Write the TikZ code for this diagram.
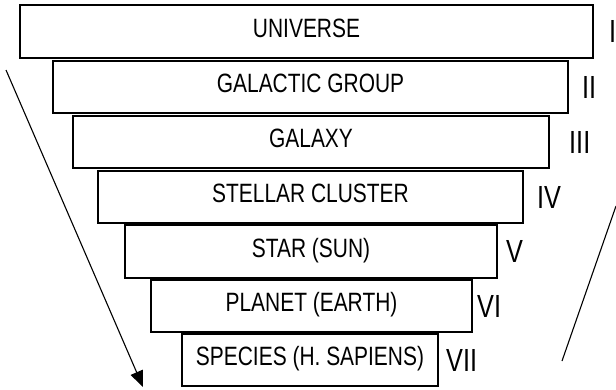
\documentclass[tikz,border=0pt]{standalone}
\usepackage{fontspec}
\setmainfont{Liberation Sans}[FakeStretch=0.79]
\usetikzlibrary{arrows.meta}

\begin{document}
\begin{tikzpicture}[x=1pt,y=-1pt,
    levelbox/.style={draw,line width=1.3pt,inner sep=0pt,text height=19pt,text depth=8pt,font=\fontsize{26.5}{31}\selectfont},
    levelnum/.style={anchor=west,inner sep=0pt,font=\fontsize{32}{38}\selectfont}]
  \useasboundingbox (0,0) rectangle (616,389);
  % 各层方框
  \foreach \i/\txt/\cx/\cy/\w/\h in {1/UNIVERSE/306.5/31.5/573/53,
      2/GALACTIC GROUP/310.5/87/515/52,
      3/GALAXY/311/142/476/52,
      4/STELLAR CLUSTER/310.5/197/425/52,
      5/STAR (SUN)/311/251.5/372/53,
      6/PLANET (EARTH)/311.5/306/321/52,
      7/SPECIES (H. SAPIENS)/310/360/256/52} {
      \node[levelbox,minimum width=\w pt,minimum height=\h pt] (box\i) at (\cx,\cy) {\txt};
  }
  % 罗马数字
  \foreach \i/\num/\nx in {1/I/609,2/II/582,3/III/569,4/IV/537,5/V/506,6/VI/477,7/VII/446} {
      \node[levelnum] (num\i) at (\nx,0 |- box\i.center) {\num};
  }
  \coordinate (lefttop) at (6,70);
  \coordinate (lefttip) at (143,387);
  \coordinate (righttop) at (616,206);
  \coordinate (rightend) at (562,361);
  \draw[-{Triangle[length=16pt,width=13pt]}, line width=1.1pt] (lefttop) -- (lefttip); % 左侧箭头
  \draw[line width=1.1pt] (righttop) -- (rightend); % 右侧斜线
\end{tikzpicture}
\end{document}
